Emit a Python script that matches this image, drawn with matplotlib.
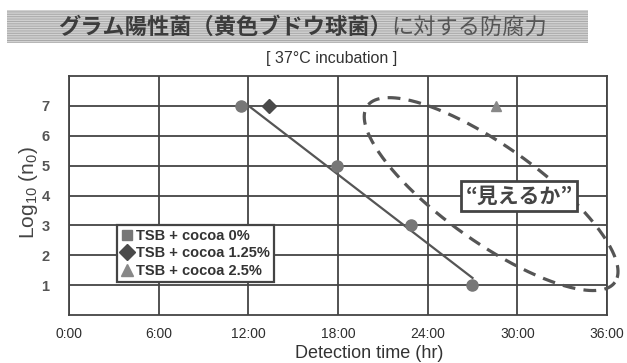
import numpy as np
import matplotlib
matplotlib.use("Agg")
import matplotlib.pyplot as plt
from matplotlib.lines import Line2D
from matplotlib.patches import Rectangle

# data (detection time in hours, log10 n0)
t_cocoa0 = [11.5, 17.9, 22.9, 27.0]
n_cocoa0 = [7, 5, 3, 1]
t_cocoa125 = [13.4]
n_cocoa125 = [7]
t_cocoa25 = [28.6]
n_cocoa25 = [7]

labels = ["TSB + cocoa 0%", "TSB + cocoa 1.25%", "TSB + cocoa 2.5%"]
xticks = [0, 6, 12, 18, 24, 30, 36]
xticklabels = ["0:00", "6:00", "12:00", "18:00", "24:00", "30:00", "36:00"]
yticks = [1, 2, 3, 4, 5, 6, 7]

title_bold = "グラム陽性菌（黄色ブドウ球菌）"
title_rest = "に対する防腐力"
subtitle = "[ 37°C incubation ]"
callout = "“見えるか”"

plt.rcParams["font.family"] = ["Liberation Sans", "Noto Sans CJK JP"]
narrow = ["Liberation Sans Narrow", "Liberation Sans"]
jp = ["Noto Sans CJK JP", "DejaVu Sans"]

W, H = 627, 363
fig = plt.figure(figsize=(W / 100, H / 100), dpi=100)
ax = fig.add_axes([69 / W, 1 - 315 / H, (607 - 69) / W, (315 - 76) / H])

dark = "#444444"

# grid
ax.set_xlim(0, 36)
ax.set_ylim(0, 8)
ax.set_xticks(xticks)
ax.set_xticklabels(xticklabels, fontsize=10, color="#2e2e2e", family=narrow)
ax.set_yticks(yticks)
ax.set_yticklabels([str(v) for v in yticks], fontsize=10.5, fontweight="bold", color="#555555")
ax.tick_params(axis="both", which="both", length=0)
ax.tick_params(axis="x", pad=9)
ax.tick_params(axis="y", pad=14)
ax.grid(True, color=dark, lw=1.3)
ax.set_axisbelow(True)
for s in ax.spines.values():
    s.set_color(dark)
    s.set_linewidth(1.3)

# trend line for 0% series
k, b = np.polyfit(t_cocoa0, n_cocoa0, 1)
tl = np.array([12, t_cocoa0[-1]])
ax.plot(tl, k * tl + b, color="#555555", lw=1.6, zorder=3)

ax.plot(t_cocoa0, n_cocoa0, "o", color="#777777", ms=8, zorder=4)
ax.plot(t_cocoa125, n_cocoa125, "D", color="#4a4a4a", ms=7.5, zorder=4)
ax.plot(t_cocoa25, n_cocoa25, "^", color="#888888", ms=7, zorder=4)

# dashed ellipse (drawn in pixel space, mapped to data)
px_x, px_y = 14.94, 29.9
cx, cy = 491, 194
a_px, b_px, ang = 152, 48, np.deg2rad(35.5)
th = np.linspace(0, 2 * np.pi, 300)
ex = cx + a_px * np.cos(th) * np.cos(ang) - b_px * np.sin(th) * np.sin(ang)
ey = cy + a_px * np.cos(th) * np.sin(ang) + b_px * np.sin(th) * np.cos(ang)
ax.plot((ex - 69) / px_x, (315 - ey) / px_y, color="#555555", lw=2.3,
        dashes=(4, 2.6), clip_on=False, zorder=5)

ax.text((519 - 69) / px_x, (315 - 196) / px_y, callout, family=jp, fontweight="bold",
        fontsize=15, color=dark, ha="center", va="center", zorder=6,
        bbox=dict(boxstyle="square,pad=0.22", fc="white", ec=dark, lw=2))

handles = [
    Line2D([], [], ls="", marker="s", color="#777777", ms=7),
    Line2D([], [], ls="", marker="D", color="#4a4a4a", ms=8),
    Line2D([], [], ls="", marker="^", color="#888888", ms=8),
]
leg = ax.legend(handles, labels, loc="lower left", bbox_to_anchor=(0.089, 0.138),
                borderaxespad=0, fancybox=False, framealpha=1, edgecolor=dark,
                handlelength=0.8, handletextpad=0.2, borderpad=0.3, labelspacing=0.22,
                prop=dict(family="Liberation Sans", weight="bold", size=10.5))
leg.get_frame().set_linewidth(1.6)
for t in leg.get_texts():
    t.set_color("#333333")

# labels
fig.text(28 / W, 1 - 193 / H, r"Log$\mathregular{_{10}}$ (n$\mathregular{_0}$)", rotation=90,
         fontsize=15, color=dark, ha="center", va="center")
fig.text(369 / W, 1 - 353 / H, "Detection time (hr)", fontsize=13, color="#333333",
         family=narrow, ha="center", va="center")
fig.text(332 / W, 1 - 59 / H, subtitle, fontsize=11.5, color="#333333",
         family=narrow, ha="center", va="center")

# title banner
fig.patches.append(Rectangle((7 / W, 1 - 43 / H), (588 - 7) / W, 33 / H,
                             transform=fig.transFigure, facecolor="#a8a8a8",
                             edgecolor="#d2d2d2", hatch="-------", lw=0, zorder=0))
t1 = fig.text(58 / W, 1 - 27 / H, title_bold, family=jp, fontweight="bold",
              fontsize=16, color="#3c3c3c", ha="left", va="center")
fig.canvas.draw()
bb = t1.get_window_extent()
fig.text(bb.x1 / W, 1 - 27 / H, title_rest, family=jp, fontsize=16,
         color="#555555", ha="left", va="center")

fig.savefig("out.png", dpi=100)
